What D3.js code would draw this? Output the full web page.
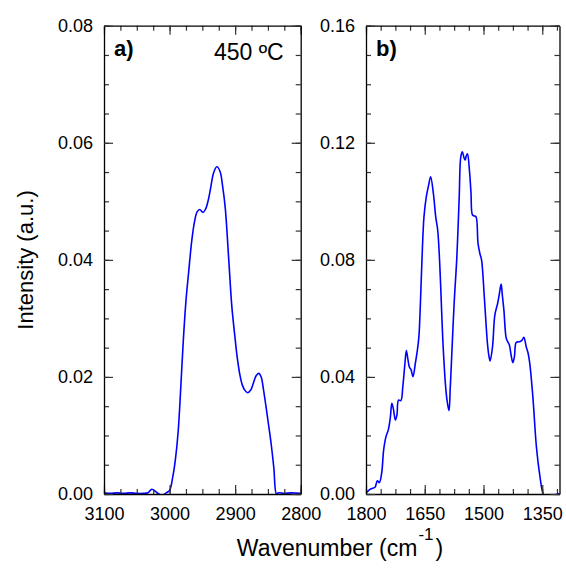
<!DOCTYPE html>
<html>
<head>
<meta charset="utf-8">
<script src="https://cdn.jsdelivr.net/npm/d3@7"></script>
<style>
  body { margin: 0; background: #fff; }
  svg { display: block; font-family: "Liberation Sans", Arial, sans-serif; }
</style>
</head>
<body>
<div id="container"></div>
<script>
// panel a: C-H stretch region
const waveA = [3100, 3090, 3080, 3070, 3060, 3050, 3040, 3033, 3027, 3020, 3012, 3005, 3000,
  2995, 2991, 2987, 2983, 2979, 2975, 2971, 2966, 2962, 2958, 2954, 2949, 2945, 2941, 2937,
  2933, 2928, 2923, 2919, 2915, 2910, 2905, 2900, 2897, 2893, 2889, 2885, 2881, 2876, 2872,
  2868, 2864, 2860, 2857, 2853, 2849, 2845, 2841, 2837, 2834, 2825, 2815, 2800];
const intA = [0.0002, 0.0001, 0.0002, 0.0001, 0.0002, 0.0001, 0.0001, 0.0002, 0.0008, 0.0003, -0.0002, 0.0002, 0.0006,
  0.003, 0.006, 0.0105, 0.018, 0.0263, 0.033, 0.0378, 0.0434, 0.0465, 0.0482, 0.0486, 0.0481, 0.0487, 0.0502, 0.0525,
  0.0548, 0.0559, 0.0551, 0.0525, 0.0488, 0.0405, 0.032, 0.0265, 0.0235, 0.0205, 0.0186, 0.0177, 0.0173, 0.0178, 0.019,
  0.0202, 0.0206, 0.0199, 0.018, 0.015, 0.0118, 0.0085, 0.0045, 0.0, 0.0002, 0.0001, 0.0002, 0.0001];

// panel b: fingerprint region
const waveB = [1800, 1795, 1790, 1783, 1777, 1771, 1766, 1760, 1755, 1749, 1743, 1738, 1734, 1730,
  1725, 1721, 1717, 1711, 1706, 1701, 1697, 1693, 1689, 1685, 1680, 1674, 1669, 1665, 1662, 1659,
  1656, 1652, 1646, 1640, 1635, 1628, 1622, 1617, 1613, 1610, 1603, 1596, 1592, 1588, 1585, 1582,
  1575, 1568, 1562, 1558, 1554, 1550, 1547, 1544, 1541, 1536, 1532, 1528, 1523, 1519, 1514, 1509,
  1505, 1498, 1490, 1486, 1483, 1477, 1471, 1464, 1460, 1455, 1452, 1448, 1442, 1438, 1434, 1429,
  1425, 1421, 1417, 1412, 1408, 1402, 1397, 1391, 1386, 1382, 1374, 1365, 1356, 1348, 1340, 1325,
  1315, 1311, 1306];
const intB = [0.0004, 0.001, 0.0016, 0.002, 0.0023, 0.0045, 0.0039, 0.0071, 0.015, 0.0196, 0.0219, 0.026, 0.031, 0.029,
  0.0253, 0.027, 0.0321, 0.0319, 0.0367, 0.044, 0.049, 0.046, 0.0433, 0.0425, 0.0401, 0.0447, 0.049, 0.0537, 0.062, 0.0731,
  0.084, 0.0947, 0.1016, 0.1056, 0.1084, 0.1027, 0.0947, 0.0902, 0.082, 0.0731, 0.0503, 0.0355, 0.031, 0.0285, 0.036, 0.0447,
  0.0651, 0.0811, 0.1016, 0.1152, 0.1169, 0.115, 0.1141, 0.1155, 0.1162, 0.1107, 0.103, 0.0953, 0.095, 0.0947, 0.0856, 0.082,
  0.080, 0.0674, 0.0515, 0.047, 0.0455, 0.0503, 0.0612, 0.0651, 0.068, 0.0717, 0.068, 0.0629, 0.0532, 0.052, 0.0509, 0.047,
  0.0449, 0.047, 0.0517, 0.052, 0.052, 0.0525, 0.0535, 0.0503, 0.048, 0.0447, 0.0332, 0.0162, 0.006, 0.0, -0.002, -0.002,
  -0.0005, 0.0, 0.0002];

const xTicksA = [3100, 3000, 2900, 2800];
const yTicksA = [0, 0.02, 0.04, 0.06, 0.08];
const xTicksB = [1800, 1650, 1500, 1350];
const yTicksB = [0, 0.04, 0.08, 0.12, 0.16];

const w = 566;
const h = 573;
const plotTop = 25.7;
const plotBottom = 494;

const svg = d3
  .select("#container")
  .append("svg")
  .attr("width", w)
  .attr("height", h);

const panels = [
  {
    id: "a", wave: waveA, vals: intA, xDomain: [3100, 2800], xRange: [104, 300.7],
    yMax: 0.08, xTicks: xTicksA, yTicks: yTicksA, xMinorStep: 25, yMinorStep: 0.005,
    label: "a)", note: "450 ºC"
  },
  {
    id: "b", wave: waveB, vals: intB, xDomain: [1800, 1306], xRange: [366, 559.5],
    yMax: 0.16, xTicks: xTicksB, yTicks: yTicksB, xMinorStep: 37.5, yMinorStep: 0.01,
    label: "b)", note: null
  }
];

panels.forEach((p) => {
  const x = d3.scaleLinear().domain(p.xDomain).range(p.xRange);
  const y = d3.scaleLinear().domain([0, p.yMax]).range([plotBottom, plotTop]);
  const left = p.xRange[0];
  const right = p.xRange[1];

  const xMinor = d3.range(p.xDomain[0], p.xDomain[1] - 1e-6, -p.xMinorStep);
  const yMinor = d3.range(0, p.yMax + 1e-9, p.yMinorStep);

  svg
    .append("clipPath")
    .attr("id", "clip-" + p.id)
    .append("rect")
    .attr("x", left)
    .attr("y", plotTop)
    .attr("width", right - left)
    .attr("height", plotBottom - plotTop);

  const line = d3
    .line()
    .x((d) => x(d[0]))
    .y((d) => y(d[1]))
    .curve(d3.curveCatmullRom.alpha(0.5));

  svg
    .append("path")
    .datum(p.wave.map((v, i) => [v, p.vals[i]]))
    .attr("clip-path", `url(#clip-${p.id})`)
    .attr("fill", "none")
    .attr("stroke", "#0000ff")
    .attr("stroke-width", 1.6)
    .attr("d", line);

  const fmtY = d3.format(".2f");

  // minor ticks (all four sides)
  const minorAxes = [
    [d3.axisBottom(x).tickValues(xMinor), `translate(0,${plotBottom})`],
    [d3.axisTop(x).tickValues(xMinor), `translate(0,${plotTop})`],
    [d3.axisLeft(y).tickValues(yMinor), `translate(${left},0)`],
    [d3.axisRight(y).tickValues(yMinor), `translate(${right},0)`]
  ];
  minorAxes.forEach(([ax, tr]) => {
    svg
      .append("g")
      .attr("class", "minor")
      .attr("transform", tr)
      .call(ax.tickSizeInner(-5).tickSizeOuter(0).tickFormat(""))
      .call((g) => g.select(".domain").remove());
  });

  // major ticks
  svg
    .append("g")
    .attr("transform", `translate(0,${plotBottom})`)
    .call(d3.axisBottom(x).tickValues(p.xTicks).tickSizeInner(-9).tickSizeOuter(0).tickPadding(13).tickFormat(d3.format("d")));
  svg
    .append("g")
    .attr("transform", `translate(0,${plotTop})`)
    .call(d3.axisTop(x).tickValues(p.xTicks).tickSizeInner(-9).tickSizeOuter(0).tickFormat(""));
  svg
    .append("g")
    .attr("transform", `translate(${left},0)`)
    .call(d3.axisLeft(y).tickValues(p.yTicks).tickSizeInner(-9).tickSizeOuter(0).tickPadding(11).tickFormat(fmtY));
  svg
    .append("g")
    .attr("transform", `translate(${right},0)`)
    .call(d3.axisRight(y).tickValues(p.yTicks).tickSizeInner(-9).tickSizeOuter(0).tickFormat(""));

  svg
    .append("text")
    .attr("x", left + 10)
    .attr("y", 56)
    .attr("font-size", 22)
    .attr("font-weight", "bold")
    .text(p.label);

  if (p.note) {
    svg
      .append("text")
      .attr("x", right - 17)
      .attr("y", 60)
      .attr("text-anchor", "end")
      .attr("font-size", 23)
      .text(p.note);
  }
});

svg.selectAll(".tick line").attr("stroke", "#333").attr("stroke-width", 1.2);
svg.selectAll(".domain").attr("stroke", "#000").attr("stroke-width", 1.3);
svg.selectAll(".tick text").attr("font-size", 18).attr("fill", "#000").attr("font-family", "Liberation Sans, Arial, sans-serif");

svg
  .append("text")
  .attr("text-anchor", "middle")
  .attr("transform", `translate(33, 260) rotate(-90)`)
  .attr("font-size", 22)
  .text("Intensity (a.u.)");

const xLabel = svg
  .append("text")
  .attr("x", 340)
  .attr("y", 556)
  .attr("text-anchor", "middle")
  .attr("font-size", 23);
xLabel.append("tspan").text("Wavenumber (cm");
xLabel.append("tspan").attr("dy", -16).attr("dx", 1).attr("font-size", 17).text("-1");
xLabel.append("tspan").attr("dy", 16).attr("dx", 2).text(")");
</script>
</body>
</html>
